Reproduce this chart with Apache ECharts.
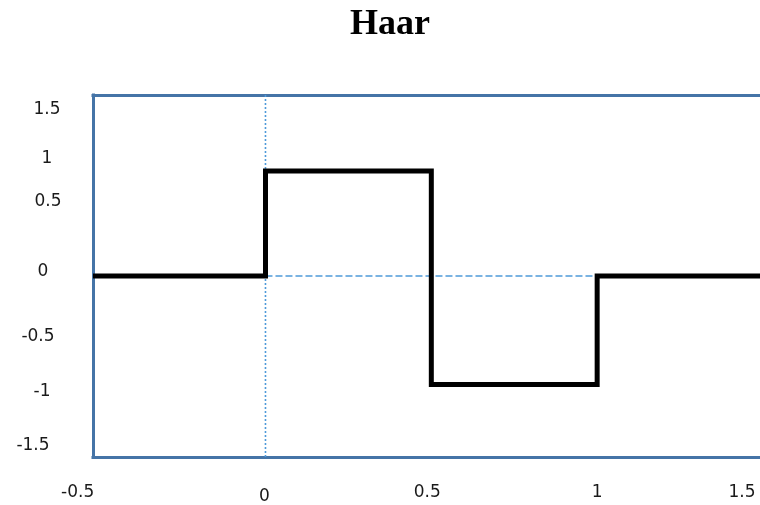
<!DOCTYPE html>
<html>
<head>
<meta charset="utf-8">
<script src="https://cdn.jsdelivr.net/npm/echarts@6/dist/echarts.min.js"></script>
<style>
  html, body { margin: 0; padding: 0; background: #fff; }
  #chart { width: 760px; height: 505px; }
</style>
</head>
<body>
<div id="chart"></div>
<script>
// ---- data ----
const titleText = 'Haar';
const xMin = -0.52;
const xMax = 1.5;
const yMin = -1.5;
const yMax = 1.5;
const xTicks = [-0.5, 0, 0.5, 1, 1.5];
const xTickLabels = ['-0.5', '0', '0.5', '1', '1.5'];
const yTicks = [-1.5, -1, -0.5, 0, 0.5, 1, 1.5];
const yTickLabels = ['-1.5', '-1', '-0.5', '0', '0.5', '1', '1.5'];
// Haar wavelet step function (x, y)
const haarX = [xMin, 0, 0, 0.5, 0.5, 1, 1, xMax];
const haarY = [0, 0, 0.87, 0.87, -0.9, -0.9, 0, 0];
// reference guide lines
const zeroRefX = [0, 1];
const zeroRefY = [0, 0];
const vertRefX = [0, 0];
const vertRefY = [yMin, yMax];

// ---- styling (label nudges, px: [dx, dy]) ----
const xNudge = { '-0.5': [-22, 0], '0': [-1, 4], '0.5': [-4, 0], '1': [0, 0], '1.5': [-21, 0] };
const yNudge = { '1.5': [3, 15], '1': [3, 3], '0.5': [4, -14], '0': [-1, -4], '-0.5': [-6, 0], '-1': [-2, -5], '-1.5': [-11, -11] };

const zip = (xs, ys) => xs.map((x, i) => [x, ys[i]]);
function padFor(d) {
  const dx = d[0], dy = d[1];
  return [dy > 0 ? 2 * dy : 0, dx < 0 ? -2 * dx : 0, dy < 0 ? -2 * dy : 0, dx > 0 ? 2 * dx : 0];
}
const labelFont = { fontFamily: 'DejaVu Sans', fontSize: 17, color: '#1a1a1a' };
function buildRich(prefix, labels, nudges) {
  const rich = {};
  labels.forEach((l, i) => {
    rich[prefix + i] = Object.assign({ padding: padFor(nudges[l] || [0, 0]) }, labelFont);
  });
  return rich;
}
function makeFormatter(prefix, ticks, labels) {
  return function (v) {
    let idx = ticks.findIndex(t => Math.abs(t - v) < 1e-9);
    if (idx < 0) return '';
    return '{' + prefix + idx + '|' + labels[idx] + '}';
  };
}

const borderColor = '#4574a7';
const borderLine = { show: true, onZero: false, lineStyle: { color: borderColor, width: 3, cap: 'square' } };
const guideColor = '#4f9ad9';

const chart = echarts.init(document.getElementById('chart'), null, { renderer: 'canvas' });
chart.setOption({
  animation: false,
  backgroundColor: '#ffffff',
  title: {
    text: titleText,
    left: 350,
    top: 7,
    padding: 0,
    textStyle: { fontFamily: 'Liberation Serif', fontWeight: 'bold', fontSize: 36, color: '#000' }
  },
  grid: {
    left: 93, right: -3, top: 95, bottom: 48,
    outerBoundsMode: 'none',
    containLabel: false,
    show: false
  },
  xAxis: [
    {
      type: 'value',
      min: xMin, max: xMax,
      position: 'bottom',
      axisLine: borderLine,
      axisTick: { show: false },
      splitLine: { show: false },
      axisLabel: {
        customValues: xTicks,
        margin: 36,
        verticalAlign: 'middle',
        align: 'center',
        formatter: makeFormatter('x', xTicks, xTickLabels),
        rich: buildRich('x', xTickLabels, xNudge),
        fontFamily: 'DejaVu Sans', fontSize: 17, color: '#1a1a1a'
      }
    },
    {
      type: 'value',
      min: xMin, max: xMax,
      position: 'top',
      axisLine: borderLine,
      axisTick: { show: false },
      splitLine: { show: false },
      axisLabel: { show: false }
    }
  ],
  yAxis: {
    type: 'value',
    min: yMin, max: yMax, interval: 0.5,
    axisLine: borderLine,
    axisTick: { show: false },
    splitLine: { show: false },
    axisLabel: {
      customValues: yTicks,
      margin: 49,
      align: 'center',
      verticalAlign: 'middle',
      formatter: makeFormatter('y', yTicks, yTickLabels),
      rich: buildRich('y', yTickLabels, yNudge),
      fontFamily: 'DejaVu Sans', fontSize: 17, color: '#1a1a1a'
    }
  },
  series: [
    {
      type: 'line', data: zip(vertRefX, vertRefY), showSymbol: false, silent: true,
      lineStyle: { color: guideColor, width: 1.6, type: [2, 2] }
    },
    {
      type: 'line', data: zip(zeroRefX, zeroRefY), showSymbol: false, silent: true,
      lineStyle: { color: guideColor, width: 1.4, type: [7, 3] }
    },
    {
      type: 'line', data: zip(haarX, haarY), showSymbol: false, silent: true,
      lineStyle: { color: '#000000', width: 5, join: 'miter', cap: 'butt' }
    }
  ]
});
</script>
</body>
</html>
